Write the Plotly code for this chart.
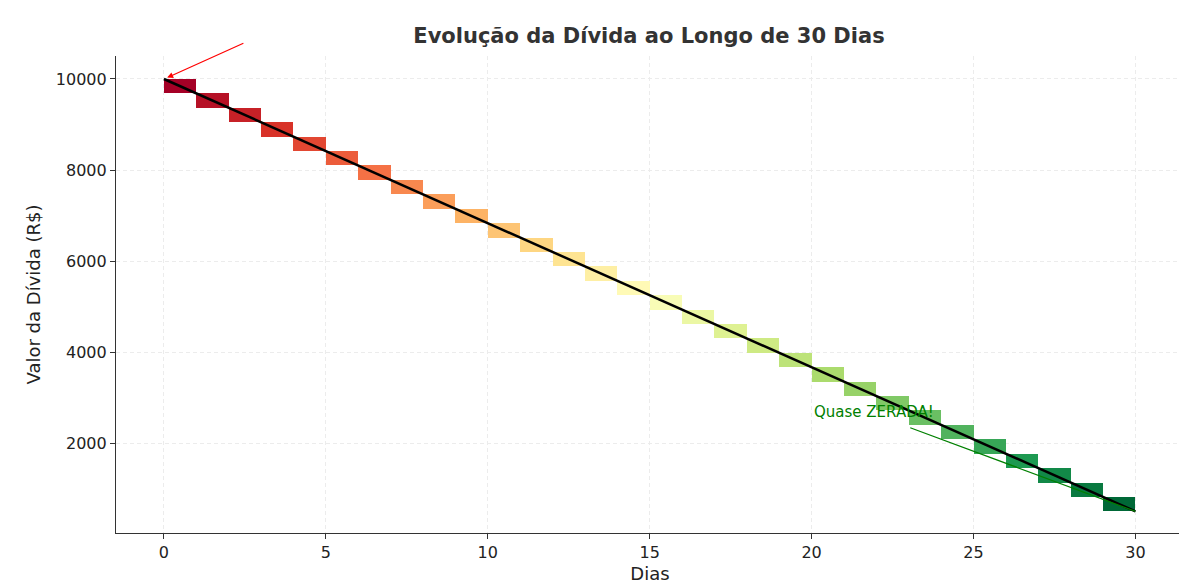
import plotly.graph_objects as go
import plotly.express as px

dias = list(range(31))
divida = [10000, 9683, 9367, 9050, 8733, 8417, 8100, 7783, 7467, 7150, 6833,
          6517, 6200, 5883, 5567, 5250, 4933, 4617, 4300, 3983, 3667,
          3350, 3033, 2717, 2400, 2083, 1767, 1450, 1133, 817, 500]
ticks_y = [2000, 4000, 6000, 8000, 10000]

n = len(dias) - 1
cores = px.colors.sample_colorscale("RdYlGn", [i / (n - 1) for i in range(n)])

fig = go.Figure()
fig.add_trace(go.Bar(
    x=[d + 0.5 for d in dias[:-1]],
    y=[divida[i] - divida[i + 1] for i in range(n)],
    base=divida[1:],
    width=1,
    marker=dict(color=cores, line=dict(width=0)),
    hoverinfo="skip",
))
fig.add_trace(go.Scatter(x=dias, y=divida, mode="lines",
                         line=dict(color="black", width=2.5)))

# annotations: text placed separately from arrows, like matplotlib
fig.add_annotation(x=2, y=10800, text="Dívida Alta", showarrow=False,
                   xanchor="left", yanchor="bottom", font=dict(color="red", size=15))
fig.add_annotation(x=0.1, y=10030, ax=2.5, ay=10800, axref="x", ayref="y",
                   text="", showarrow=True, arrowhead=2, arrowsize=1,
                   arrowwidth=1.2, arrowcolor="red")
fig.add_annotation(x=20, y=2450, text="Quase ZERADA!", showarrow=False,
                   xanchor="left", yanchor="bottom", font=dict(color="green", size=15))
fig.add_annotation(x=30, y=500, ax=23, ay=2350, axref="x", ayref="y",
                   text="", showarrow=True, arrowhead=0,
                   arrowwidth=1.2, arrowcolor="green")

axis = dict(showline=True, linecolor="#333", linewidth=1.2, ticks="outside",
            ticklen=5, tickcolor="#333", gridcolor="#ececec", griddash="4px,3px",
            zeroline=False, tickfont=dict(size=16, color="#222"),
            title_font=dict(size=18, color="#222"), automargin=False)
fig.update_layout(
    width=1187, height=587, plot_bgcolor="white", paper_bgcolor="white",
    font=dict(family="DejaVu Sans"), showlegend=False, bargap=0,
    margin=dict(l=108, r=11, t=48, b=62),
    title=dict(text="<b>Evolução da Dívida ao Longo de 30 Dias</b>", x=0.54,
               y=0.965, xanchor="center", yanchor="top",
               font=dict(size=21, color="#333")),
    xaxis=dict(axis, range=[-1.48, 31.5], dtick=5, title=dict(text="Dias", standoff=6)),
    yaxis=dict(axis, range=[25, 10505], tickvals=ticks_y,
               ticktext=[str(t) for t in ticks_y],
               title=dict(text="Valor da Dívida (R$)", standoff=10)),
)
fig.write_html("out.html")
